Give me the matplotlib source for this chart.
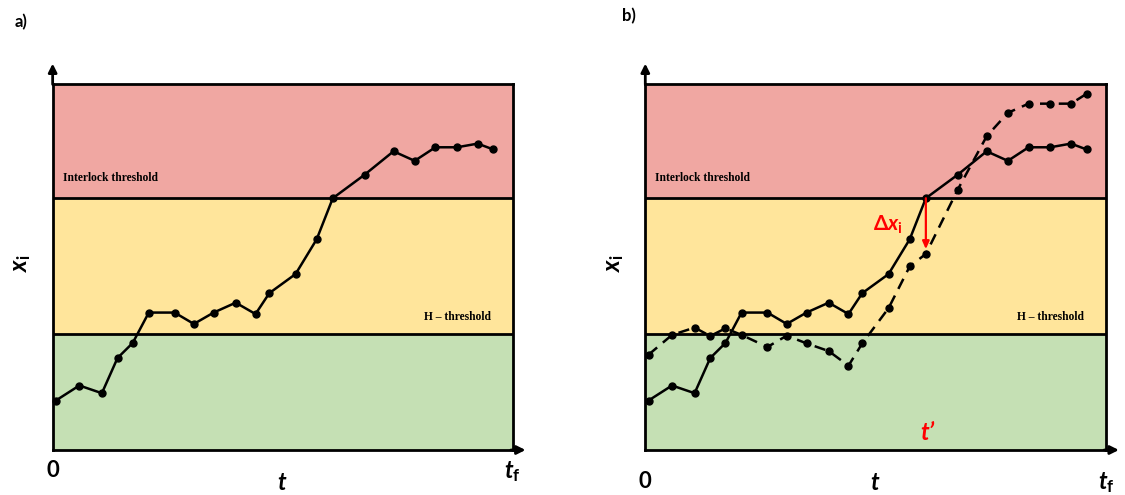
import matplotlib
matplotlib.use("Agg")
import matplotlib.pyplot as plt

plt.rcParams["mathtext.fontset"] = "custom"
plt.rcParams["mathtext.it"] = "Lato:italic:bold"
plt.rcParams["mathtext.rm"] = "Lato:bold"
plt.rcParams["mathtext.bf"] = "Lato:bold"

# sample times, as a fraction of the run [0, tf]
times = [0.007, 0.058, 0.107, 0.141, 0.174, 0.209, 0.265, 0.307, 0.350, 0.398, 0.441,
         0.471, 0.528, 0.574, 0.609, 0.678, 0.741, 0.787, 0.832, 0.879, 0.924, 0.958]

# measured trajectory x_i (normalised)
x_measured = [0.135, 0.176, 0.155, 0.251, 0.292, 0.375, 0.375, 0.344, 0.375, 0.402, 0.371,
              0.428, 0.480, 0.575, 0.687, 0.751, 0.815, 0.789, 0.826, 0.826, 0.836, 0.820]

# shifted trajectory used in panel b
x_shifted = [0.260, 0.314, 0.334, 0.311, 0.332, 0.314, 0.281, 0.312, 0.291, 0.270, 0.230,
             0.291, 0.387, 0.501, 0.535, 0.710, 0.856, 0.920, 0.945, 0.945, 0.945, 0.972]

h_threshold = 0.316
interlock_threshold = 0.687
t_prime = 0.609
delta_end = 0.548

zones = [(0.0, h_threshold, "#C5E0B4"),
         (h_threshold, interlock_threshold, "#FFE59B"),
         (interlock_threshold, 1.0, "#F0A7A2")]

LABEL_FONT = ["Lato", "DejaVu Sans"]
SERIF_FONT = "Liberation Serif"


def draw_panel(ax, letter, letter_xy, zero_y, t_y, tf_y):
    for lo, hi, color in zones:
        ax.axhspan(lo, hi, color=color, zorder=0)
    for level in (h_threshold, interlock_threshold):
        ax.axhline(level, color="black", lw=2.0, zorder=1)

    ax.set_xlim(0, 1)
    ax.set_ylim(0, 1)
    ax.set_xticks([])
    ax.set_yticks([])
    for sp in ax.spines.values():
        sp.set_linewidth(2.0)
        sp.set_zorder(5)

    # axis arrows sticking out of the box
    ax.annotate("", xy=(0, 1.062), xytext=(0, 0.99), xycoords="axes fraction",
                arrowprops=dict(arrowstyle="-|>,head_width=0.25,head_length=0.5",
                                color="black", lw=2.0), annotation_clip=False)
    ax.annotate("", xy=(1.034, 0), xytext=(0.99, 0), xycoords="axes fraction",
                arrowprops=dict(arrowstyle="-|>,head_width=0.25,head_length=0.5",
                                color="black", lw=2.0), annotation_clip=False)

    ax.text(0.022, 0.742, "Interlock threshold", transform=ax.transAxes,
            family=SERIF_FONT, weight="bold", fontsize=8.3, va="center", ha="left")
    ax.text(0.952, 0.364, "H \u2013 threshold", transform=ax.transAxes,
            family=SERIF_FONT, weight="bold", fontsize=8.3, va="center", ha="right")

    ax.text(-0.069, 0.51, r"$x_{\mathrm{i}}$", transform=ax.transAxes, rotation=90,
            fontsize=17, va="center", ha="center")
    ax.text(0.0, zero_y, "0", transform=ax.transAxes, family=LABEL_FONT, weight="bold",
            fontsize=16, va="center", ha="center")
    ax.text(0.5, t_y, r"$t$", transform=ax.transAxes, fontsize=17, va="center", ha="center")
    ax.text(1.0, tf_y, r"$t_{\mathrm{f}}$", transform=ax.transAxes, fontsize=17,
            va="center", ha="center")

    fig.text(letter_xy[0], letter_xy[1], letter, family=LABEL_FONT, weight="bold",
             fontsize=12, va="center", ha="center")

    ax.plot(times, x_measured, color="black", lw=1.8, marker="o", markersize=5,
            zorder=3, clip_on=False)


fig = plt.figure(figsize=(11.25, 4.95), dpi=100)
ax_a = fig.add_axes([0.0468, 0.0909, 0.4089, 0.7404])
ax_b = fig.add_axes([0.5736, 0.0909, 0.4095, 0.7404])

draw_panel(ax_a, "a)", (0.019, 0.955), -0.055, -0.09, -0.06)
draw_panel(ax_b, "b)", (0.559, 0.968), -0.085, -0.09, -0.088)

# panel b: shifted run and the gap at t'
ax_b.plot(times, x_shifted, color="black", lw=1.8, ls=(0, (4.5, 3)), marker="o",
          markersize=5, zorder=3, clip_on=False)
ax_b.annotate("", xy=(t_prime, delta_end), xytext=(t_prime, interlock_threshold),
              arrowprops=dict(arrowstyle="-|>,head_width=0.2,head_length=0.45",
                              color="red", lw=1.6, shrinkA=0, shrinkB=0), zorder=4)
ax_b.text(0.526, 0.615, "\u0394" + r"$x_{\mathrm{i}}$", color="red", fontsize=15,
          family=LABEL_FONT, weight="bold", va="center", ha="center")
ax_b.text(0.614, 0.05, r"$t$" + "\u2019", color="red", fontsize=17,
          family=LABEL_FONT, weight="bold", style="italic", va="center", ha="center")

fig.savefig("out.png", dpi=100)
